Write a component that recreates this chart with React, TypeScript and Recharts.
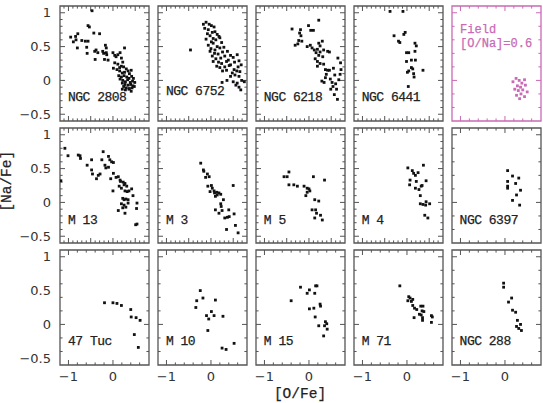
import React from 'react';
import { ScatterChart, Scatter, XAxis, YAxis, ReferenceLine, ReferenceArea, ReferenceDot } from 'recharts';

type Pt = [number, number];

// [O/Fe], [Na/Fe] pairs per cluster
const ngc2808: Pt[] = [
  [-0.47, 1.03], [-0.95, 0.64], [-0.84, 0.65], [-0.79, 0.69], [-0.89, 0.57], [-0.83, 0.6], [-0.7, 0.59],
  [-0.62, 0.58], [-0.56, 0.58], [-0.8, 0.48], [-0.56, 0.81], [-0.53, 0.79], [-0.43, 0.7], [-0.3, 0.69],
  [-0.59, 0.49], [-0.58, 0.4], [-0.41, 0.43], [-0.38, 0.45], [-0.34, 0.41], [-0.4, 0.31], [-0.17, 0.52],
  [-0.15, 0.48], [-0.23, 0.43], [-0.21, 0.4], [-0.15, 0.41], [-0.14, 0.38], [-0.19, 0.31], [-0.11, 0.3],
  [0.0, 0.41], [0.04, 0.37], [0.07, 0.35], [0.11, 0.38], [0.16, 0.41], [0.26, 0.48], [0.19, 0.33],
  [0.22, 0.27], [0.04, 0.26], [0.11, 0.24], [0.01, 0.18], [0.15, 0.19],
  [0.09, 0.16], [0.19, 0.21], [0.24, 0.2], [0.3, 0.17], [0.15, 0.14], [0.21, 0.11], [0.26, 0.12],
  [0.34, 0.14], [0.37, 0.1], [0.41, 0.15], [0.13, 0.07], [0.19, 0.05], [0.25, 0.07], [0.31, 0.05],
  [0.36, 0.03], [0.42, 0.06], [0.46, 0.03], [0.16, 0.02], [0.22, 0.0], [0.28, -0.02], [0.33, 0.01],
  [0.39, -0.03], [0.44, -0.01], [0.49, -0.03], [0.21, -0.04], [0.27, -0.06], [0.34, -0.07], [0.4, -0.06],
  [0.45, -0.08], [0.24, -0.09], [0.3, -0.11], [0.37, -0.12], [0.43, -0.11], [0.48, -0.09], [0.28, -0.14],
  [0.36, -0.13], [0.21, -0.13], [0.41, -0.16],
];

const ngc6752: Pt[] = [
  [-0.46, 0.45], [-0.17, 0.83], [-0.11, 0.86], [-0.04, 0.83], [0.01, 0.81], [-0.14, 0.77], [-0.06, 0.75],
  [0.07, 0.79], [0.09, 0.72], [0.03, 0.71], [-0.08, 0.69], [0.14, 0.68], [-0.02, 0.66], [0.05, 0.62],
  [0.18, 0.65], [-0.11, 0.61], [0.01, 0.57], [0.11, 0.6], [0.2, 0.63], [-0.06, 0.52], [0.05, 0.55],
  [0.14, 0.5], [0.24, 0.56], [0.0, 0.47], [0.09, 0.45], [0.2, 0.48], [0.29, 0.49], [-0.02, 0.43],
  [0.08, 0.4], [0.16, 0.39], [0.26, 0.42], [0.37, 0.43], [0.44, 0.37], [0.03, 0.36], [0.11, 0.32],
  [0.22, 0.33], [0.31, 0.36], [0.39, 0.3], [0.5, 0.34], [0.59, 0.38], [0.05, 0.28], [0.17, 0.27],
  [0.24, 0.25], [0.35, 0.28], [0.44, 0.23], [0.53, 0.27], [0.63, 0.29], [0.13, 0.21], [0.2, 0.19],
  [0.31, 0.2], [0.41, 0.22], [0.52, 0.16], [0.61, 0.2], [0.68, 0.23], [0.26, 0.14], [0.35, 0.15],
  [0.48, 0.11], [0.58, 0.14], [0.65, 0.13], [0.54, 0.08], [0.63, 0.06], [0.44, 0.06], [0.36, 0.0],
  [0.25, -0.03], [0.5, -0.02], [0.59, -0.04], [0.69, 0.0], [0.75, -0.02], [0.63, -0.1], [0.67, -0.14],
  [0.56, -0.07],
];

const ngc6218: Pt[] = [
  [0.22, 0.89], [-0.01, 0.81], [0.04, 0.74], [0.1, 0.74], [-0.38, 0.76], [-0.19, 0.75], [-0.21, 0.7],
  [-0.18, 0.66], [-0.23, 0.59], [-0.16, 0.58], [-0.31, 0.52], [-0.25, 0.54], [-0.04, 0.5], [0.03, 0.52],
  [0.07, 0.48], [0.22, 0.55], [0.3, 0.58], [0.25, 0.51], [0.12, 0.45], [0.19, 0.46], [0.16, 0.41],
  [0.25, 0.42], [0.33, 0.45], [0.42, 0.43], [0.46, 0.42], [0.22, 0.37], [0.31, 0.35], [0.14, 0.32],
  [0.19, 0.28], [0.25, 0.25], [0.19, 0.21], [0.33, 0.24], [0.37, 0.16], [0.42, 0.15], [0.46, 0.15],
  [0.39, 0.09], [0.37, 0.04], [0.48, 0.02], [0.29, -0.01], [0.34, -0.03], [0.52, -0.03], [0.54, -0.09],
  [0.49, -0.13], [0.57, -0.21], [0.65, 0.33], [0.71, 0.26], [0.7, 0.09], [0.72, 0.16], [0.67, 0.01],
  [0.62, -0.13], [0.64, -0.28], [0.6, -0.05], [0.55, 0.18], [0.58, 0.08],
];

const ngc6441: Pt[] = [
  [-0.38, 1.02], [-0.09, 1.02], [-0.29, 0.66], [-0.19, 0.58], [-0.16, 0.56], [-0.07, 0.68], [-0.04, 0.71],
  [0.18, 0.55], [0.21, 0.51], [-0.01, 0.41], [0.04, 0.41], [0.18, 0.43], [-0.01, 0.28], [0.1, 0.3],
  [0.19, 0.3], [0.1, 0.19], [0.13, 0.17], [0.04, 0.14], [0.01, 0.12], [0.15, 0.1], [0.36, 0.15],
  [0.16, 0.05], [0.03, -0.09],
];

const fieldStars: Pt[] = [
  [0.18, -0.02], [0.25, 0.03], [0.32, 0.0], [0.38, -0.04], [0.44, 0.01], [0.28, -0.08], [0.35, -0.1],
  [0.46, -0.07], [0.22, -0.13], [0.3, -0.15], [0.4, -0.14], [0.5, -0.17], [0.26, -0.22], [0.36, -0.2],
  [0.44, -0.24], [0.33, -0.27],
];

const m13: Pt[] = [
  [-1.17, 0.32], [-1.08, 0.8], [-1.01, 0.69], [-0.78, 0.7], [-0.74, 0.69], [-0.73, 0.65], [-0.58, 0.55],
  [-0.48, 0.63], [-0.48, 0.48], [-0.46, 0.42], [-0.33, 0.4], [-0.37, 0.35], [-0.29, 0.42], [-0.25, 0.63],
  [-0.22, 0.75], [-0.18, 0.55], [-0.16, 0.51], [-0.1, 0.52], [-0.1, 0.68], [-0.07, 0.63], [-0.03, 0.6],
  [0.01, 0.59], [-0.05, 0.35], [0.01, 0.43], [0.07, 0.37], [0.12, 0.38], [0.16, 0.33], [0.17, 0.31],
  [0.23, 0.3], [0.27, 0.28], [0.14, 0.24], [0.19, 0.21], [0.25, 0.26], [0.31, 0.24], [0.0, 0.17],
  [0.27, 0.17], [0.32, 0.16], [0.36, 0.17], [0.42, 0.2], [0.45, 0.1], [0.22, 0.06], [0.25, 0.04],
  [0.29, 0.05], [0.34, 0.04], [0.19, -0.02], [0.25, -0.04], [0.29, -0.07], [0.22, -0.08], [0.12, -0.12],
  [0.27, -0.16], [0.34, -0.01], [0.54, -0.01], [0.53, -0.09], [0.51, -0.33], [0.54, -0.32],
];

const m3: Pt[] = [
  [-0.23, 0.58], [-0.17, 0.48], [-0.16, 0.46], [-0.08, 0.42], [-0.12, 0.37], [-0.04, 0.38], [-0.07, 0.24],
  [0.01, 0.25], [0.03, 0.21], [-0.02, 0.16], [0.07, 0.17], [0.08, 0.14], [0.13, 0.15], [0.18, 0.14],
  [0.14, 0.11], [0.1, 0.09], [0.22, 0.12], [0.28, 0.04], [0.22, -0.02], [0.23, -0.06], [0.5, 0.25],
  [0.1, -0.11], [0.18, -0.16], [0.25, -0.12], [0.4, -0.11], [0.31, -0.23], [0.37, -0.22], [0.41, -0.21],
  [0.52, -0.17], [0.35, -0.4], [0.55, -0.34], [0.61, -0.45],
];

const m5: Pt[] = [
  [-0.56, 0.38], [-0.49, 0.38], [-0.45, 0.45], [-0.45, 0.26], [-0.34, 0.26], [-0.26, 0.24], [-0.11, 0.24],
  [-0.04, 0.21], [0.0, 0.2], [0.02, 0.17], [-0.04, 0.15], [-0.07, 0.1], [0.1, 0.38], [0.35, 0.33],
  [0.13, 0.04], [0.22, 0.02], [0.07, -0.11], [0.15, -0.11], [0.17, -0.16], [0.13, -0.23], [0.26, -0.19],
  [0.3, -0.26],
];

const m4: Pt[] = [
  [0.02, 0.51], [0.12, 0.47], [0.15, 0.43], [0.19, 0.4], [0.25, 0.44], [0.37, 0.55], [0.07, 0.33],
  [0.21, 0.31], [0.43, 0.32], [0.06, 0.26], [0.19, 0.21], [0.27, 0.19], [0.32, 0.24], [0.34, 0.25],
  [0.3, 0.1], [0.43, 0.01], [0.3, -0.02], [0.36, -0.03], [0.42, -0.04], [0.51, -0.02], [0.4, -0.19],
  [0.47, -0.23],
];

const ngc6397: Pt[] = [
  [0.06, 0.47], [0.06, 0.31], [0.06, 0.24], [0.06, 0.21], [0.17, 0.39], [0.24, 0.28], [0.31, 0.36],
  [0.35, 0.18], [0.26, 0.11], [0.33, -0.04], [0.17, 0.03],
];

const tuc47: Pt[] = [
  [-0.19, 0.32], [0.0, 0.32], [0.09, 0.31], [0.19, 0.28], [0.4, 0.22], [0.41, 0.11], [0.52, 0.1],
  [0.61, 0.06], [0.48, -0.15], [0.57, -0.34],
];

const m10: Pt[] = [
  [-0.24, 0.5], [-0.32, 0.35], [-0.34, 0.25], [-0.18, 0.39], [0.1, 0.36], [-0.1, 0.13], [-0.05, 0.08],
  [0.01, 0.19], [0.07, 0.13], [-0.07, -0.09], [0.27, 0.12], [0.25, -0.35], [0.34, -0.37], [0.52, -0.28],
];

const m15: Pt[] = [
  [-0.4, 0.35], [-0.19, 0.55], [0.15, 0.57], [0.18, 0.57], [0.01, 0.51], [-0.04, 0.46], [0.13, 0.46],
  [0.25, 0.3], [0.26, 0.27], [0.01, 0.23], [0.11, 0.24], [0.14, 0.11], [0.37, 0.04], [0.4, 0.01],
  [0.35, -0.02], [0.22, -0.02], [0.41, -0.07], [0.33, -0.17],
];

const m71: Pt[] = [
  [-0.16, 0.57], [0.04, 0.41], [0.07, 0.39], [0.13, 0.37], [0.02, 0.35], [0.1, 0.34], [0.13, 0.28],
  [0.17, 0.24], [0.22, 0.22], [0.31, 0.27], [0.36, 0.27], [0.16, 0.1], [0.28, 0.15], [0.32, 0.14],
  [0.34, 0.2], [0.38, 0.19], [0.35, 0.06], [0.35, 0.1], [0.55, 0.13], [0.57, 0.11], [0.55, 0.03],
];

const ngc288: Pt[] = [
  [-0.03, 0.61], [-0.03, 0.55], [0.08, 0.33], [0.15, 0.39], [0.17, 0.21], [0.24, 0.18], [0.28, 0.06],
  [0.35, 0.0], [0.31, -0.06], [0.37, -0.09], [0.26, -0.03],
];

// axis ranges and ticks
const X_DOMAIN: [number, number] = [-1.19, 0.81];
const Y_DOMAIN: [number, number] = [-0.6, 1.1];
const X_LABEL_TICKS = [-1, 0];
const Y_LABEL_TICKS = [-0.5, 0, 0.5, 1];
const X_FINE = [-1.1, -1, -0.9, -0.8, -0.7, -0.6, -0.5, -0.4, -0.3, -0.2, -0.1, 0, 0.1, 0.2, 0.3, 0.4, 0.5, 0.6, 0.7];
const X_COARSE = [-1, -0.8, -0.6, -0.4, -0.2, 0, 0.2, 0.4, 0.6];
const Y_FINE = [-0.5, -0.4, -0.3, -0.2, -0.1, 0, 0.1, 0.2, 0.3, 0.4, 0.5, 0.6, 0.7, 0.8, 0.9, 1];
const Y_COARSE = [-0.4, -0.2, 0, 0.2, 0.4, 0.6, 0.8, 1];

interface PanelCfg {
  name: string;
  pts: Pt[];
  pink?: boolean;
}

const GRID: PanelCfg[][] = [
  [
    { name: 'NGC 2808', pts: ngc2808 },
    { name: 'NGC 6752', pts: ngc6752 },
    { name: 'NGC 6218', pts: ngc6218 },
    { name: 'NGC 6441', pts: ngc6441 },
    { name: '', pts: fieldStars, pink: true },
  ],
  [
    { name: 'M 13', pts: m13 },
    { name: 'M 3', pts: m3 },
    { name: 'M 5', pts: m5 },
    { name: 'M 4', pts: m4 },
    { name: 'NGC 6397', pts: ngc6397 },
  ],
  [
    { name: '47 Tuc', pts: tuc47 },
    { name: 'M 10', pts: m10 },
    { name: 'M 15', pts: m15 },
    { name: 'M 71', pts: m71 },
    { name: 'NGC 288', pts: ngc288 },
  ],
];

// layout
const COL_LEFT = [60, 157.9, 255.8, 353.7, 451.6];
const ROW_TOP = [5.5, 127.5, 249.5];
const PW = 89;
const PH = 115;
const LABEL_CAP_TOP = [94, 217, 337.5];

const FRAME = '#555';
const PINK = '#c86ab4';
const DOT = '#111';
const MONO = '"Liberation Mono", "DejaVu Sans Mono", monospace';
const SANS = '"DejaVu Sans", sans-serif';

// data units per screen pixel, used to size the inward tick marks
const XPP = (X_DOMAIN[1] - X_DOMAIN[0]) / PW;
const YPP = (Y_DOMAIN[1] - Y_DOMAIN[0]) / PH;

const fmt = (v: number) => (v < 0 ? `\u2212${Math.abs(v)}` : `${v}`);

const isMajor = (v: number, step: number) => {
  const q = v / step;
  return Math.abs(q - Math.round(q)) < 1e-6;
};

const square = (color: string) => (p: any) => (
  <rect x={p.cx - 1.4} y={p.cy - 1.4} width={2.8} height={2.8} fill={color} />
);

function Panel({ r, c, cfg }: { r: number; c: number; cfg: PanelCfg }) {
  const coarse = r === 2 || c === 4;
  const color = cfg.pink ? PINK : FRAME;
  const padL = 2 + (c === 0 ? 52 : 0);
  const padB = r === 2 ? 22 : 2;
  const w = PW + padL + 2;
  const h = PH + 2 + padB;
  const xt = coarse ? X_COARSE : X_FINE;
  const yt = coarse ? Y_COARSE : Y_FINE;
  const step = coarse ? 1 : 0.5;
  const data = cfg.pts.map(([x, y]) => ({ x, y }));
  const [x0, x1] = X_DOMAIN;
  const [y0, y1] = Y_DOMAIN;
  const ids = { xAxisId: 'px', yAxisId: 'py' };
  const tickProps = { ...ids, stroke: color, strokeWidth: 1, ifOverflow: 'visible' as const };

  const marks: React.ReactNode[] = [];
  xt.forEach((v) => {
    const len = (isMajor(v, step) ? 5 : 2.6) * YPP;
    marks.push(<ReferenceLine key={`xb${v}`} {...tickProps} segment={[{ x: v, y: y0 }, { x: v, y: y0 + len }]} />);
    marks.push(<ReferenceLine key={`xt${v}`} {...tickProps} segment={[{ x: v, y: y1 }, { x: v, y: y1 - len }]} />);
  });
  yt.forEach((v) => {
    const len = (isMajor(v, step) ? 5 : 2.6) * XPP;
    marks.push(<ReferenceLine key={`yl${v}`} {...tickProps} segment={[{ x: x0, y: v }, { x: x0 + len, y: v }]} />);
    marks.push(<ReferenceLine key={`yr${v}`} {...tickProps} segment={[{ x: x1, y: v }, { x: x1 - len, y: v }]} />);
  });

  return (
    <div style={{ position: 'absolute', left: COL_LEFT[c] - padL, top: ROW_TOP[r] - 2, width: w, height: h }}>
      <ScatterChart width={w} height={h} margin={{ top: 2, right: 2, bottom: padB, left: 2 }}>
        {c === 0 && (
          <YAxis
            yAxisId="a"
            type="number"
            domain={Y_DOMAIN}
            allowDataOverflow
            orientation="left"
            width={52}
            ticks={Y_LABEL_TICKS}
            interval={0}
            tickFormatter={fmt}
            axisLine={false}
            tickLine={false}
            tickSize={6}
            tickMargin={3}
            tick={{ fontSize: 13, fontFamily: SANS, fill: '#333' }}
          />
        )}
        <XAxis xAxisId="px" type="number" dataKey="x" domain={X_DOMAIN} allowDataOverflow hide height={0} />
        <YAxis yAxisId="py" type="number" dataKey="y" domain={Y_DOMAIN} allowDataOverflow hide width={0} />
        <ReferenceArea {...ids} x1={x0} x2={x1} y1={y0} y2={y1} fill="none" fillOpacity={0} stroke={color} strokeWidth={1.3} ifOverflow="visible" />
        {marks}
        {r === 2 &&
          X_LABEL_TICKS.map((v) => (
            <ReferenceDot
              key={`lab${v}`}
              {...ids}
              x={v}
              y={y0}
              r={0.01}
              fill="none"
              stroke="none"
              ifOverflow="visible"
              label={{ value: fmt(v), position: 'bottom', offset: 7, fontSize: 13, fontFamily: SANS, fill: '#333' }}
            />
          ))}
        <Scatter {...ids} data={data} shape={square(cfg.pink ? PINK : DOT)} isAnimationActive={false} />
      </ScatterChart>
    </div>
  );
}

export default function App() {
  const labelStyle = (left: number, capTop: number, size: number, color: string): React.CSSProperties => ({
    position: 'absolute',
    left,
    top: capTop - 0.2 * size,
    fontFamily: MONO,
    fontSize: size,
    lineHeight: `${size}px`,
    color,
    whiteSpace: 'pre',
    WebkitTextStroke: `0.25px ${color}`,
  });
  return (
    <div style={{ position: 'absolute', left: 0, top: 0, width: 543, height: 403, background: '#fff', overflow: 'hidden' }}>
      {GRID.map((row, r) => row.map((cfg, c) => <Panel key={`${r}-${c}`} r={r} c={c} cfg={cfg} />))}
      {GRID.map((row, r) =>
        row.map((cfg, c) =>
          cfg.name ? (
            <div
              key={`n-${r}-${c}`}
              style={{ ...labelStyle(COL_LEFT[c] + 8, r === 0 && c === 1 ? 87.5 : LABEL_CAP_TOP[r], 13, '#222'), letterSpacing: -0.5 }}
            >
              {cfg.name}
            </div>
          ) : null
        )
      )}
      <div style={labelStyle(COL_LEFT[4] + 8.5, 26, 12, PINK)}>Field</div>
      <div style={labelStyle(COL_LEFT[4] + 8.5, 40, 12, PINK)}>[O/Na]=0.6</div>
      <div style={{ ...labelStyle(0, 390, 14.5, '#222'), left: 250, width: 100, textAlign: 'center' }}>[O/Fe]</div>
      <div
        style={{
          ...labelStyle(0, 0, 14.5, '#222'),
          left: 7 - 45,
          top: 181.5 - 7.25,
          width: 90,
          textAlign: 'center',
          transform: 'rotate(-90deg)',
        }}
      >
        [Na/Fe]
      </div>
    </div>
  );
}
